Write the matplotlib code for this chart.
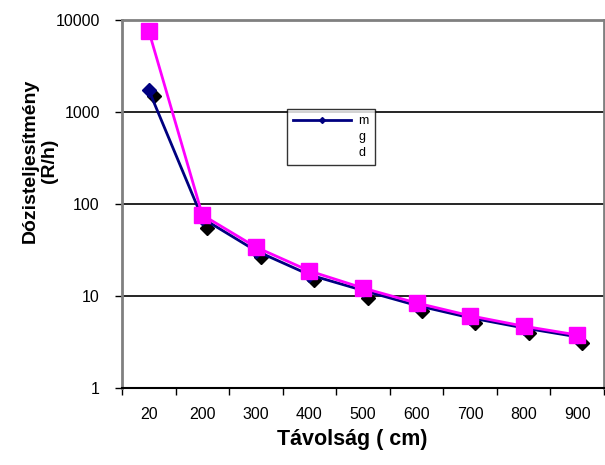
import matplotlib
matplotlib.use('Agg')
import matplotlib.pyplot as plt
import matplotlib.transforms as mtransforms
from matplotlib.lines import Line2D

categories = ['20', '200', '300', '400', '500', '600', '700', '800', '900']
m_values = [1730, 70, 31, 17, 11.5, 7.9, 5.8, 4.5, 3.6]
g_values = [7600, 76, 34, 18.7, 12.2, 8.4, 6.1, 4.7, 3.77]
d_values = [1490, 55, 26.5, 14.9, 9.5, 6.9, 5.1, 3.96, 3.08]

plt.rcParams['font.family'] = ['Liberation Sans', 'DejaVu Sans']

fig = plt.figure(figsize=(6.05, 4.65), dpi=100)
ax = fig.add_axes([122 / 605, 1 - 388 / 465, 482 / 605, 368 / 465])

x = [i + 0.5 for i in range(len(categories))]

# black markers sit slightly right of the blue ones
shift = mtransforms.offset_copy(ax.transData, fig=fig, x=5, y=0, units='dots')
ax.plot(x, d_values, linestyle='none', marker='D', markersize=7,
        color='black', transform=shift, zorder=3)
ax.plot(x, m_values, color='#000080', linewidth=2, marker='D', markersize=7,
        zorder=4)
ax.plot(x, g_values, color='#ff00ff', linewidth=2, marker='s', markersize=11,
        zorder=5)

ax.set_yscale('log')
ax.set_ylim(1, 10000)
ax.set_xlim(0, 9)
ax.set_yticks([1, 10, 100, 1000, 10000])
ax.set_yticklabels(['1', '10', '100', '1000', '10000'])
ax.yaxis.set_minor_locator(matplotlib.ticker.NullLocator())
ax.tick_params(axis='y', direction='out', length=5, width=1, pad=11, labelsize=11.5)

ax.set_xticks(range(10))
ax.set_xticklabels([])
ax.set_xticks(x, minor=True)
ax.set_xticklabels(categories, minor=True)
ax.tick_params(axis='x', which='major', direction='out', length=5, width=1)
ax.tick_params(axis='x', which='minor', length=0, pad=14, labelsize=11.5)

for yv in [10, 100, 1000]:
    ax.axhline(yv, color='black', linewidth=1.2, zorder=1)

for side in ['left', 'top', 'right']:
    ax.spines[side].set_color('#808080')
    ax.spines[side].set_linewidth(2)
ax.spines['bottom'].set_color('black')
ax.spines['bottom'].set_linewidth(1.5)

ax.set_xlabel('Távolság ( cm)', fontsize=15.5, fontweight='bold')
ax.xaxis.set_label_coords((352 - 122) / 482, -(440 - 388) / 368)
ax.xaxis.label.set_va('center')
ax.set_ylabel('Dózisteljesítmény\n(R/h)', fontsize=14, fontweight='bold',
              linespacing=1.15)
ax.yaxis.set_label_coords((58 - 122) / 482, (388 - 161) / 368)

handles = [
    Line2D([], [], color='#000080', linewidth=2, marker='D', markersize=3),
    Line2D([], [], color='none'),
    Line2D([], [], color='none'),
]
leg = ax.legend(handles, ['m', 'g', 'd'], loc='upper left',
                bbox_to_anchor=((287 - 122) / 482, 1 - (109 - 20) / 368),
                borderaxespad=0, frameon=True, fancybox=False,
                edgecolor='black', fontsize=9, handlelength=4.6,
                labelspacing=0.3, borderpad=0.5, handletextpad=0.6)
leg.get_frame().set_linewidth(1)

fig.savefig('out.png', dpi=100)
